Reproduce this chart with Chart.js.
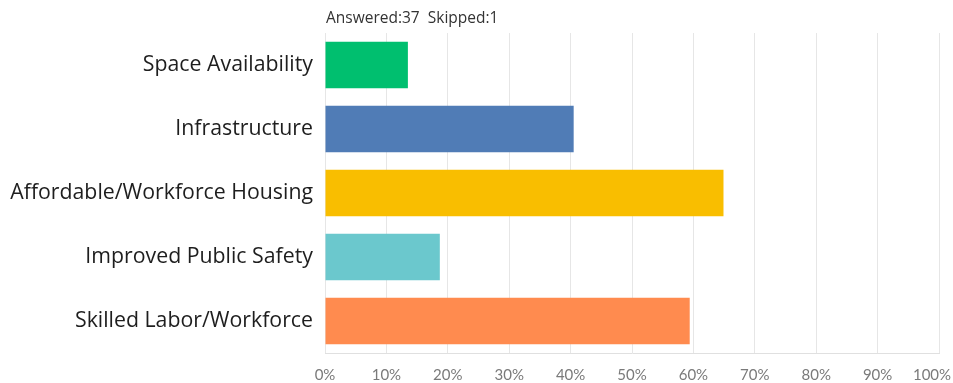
<!DOCTYPE html>
<html>
<head>
<meta charset="utf-8">
<script src="https://cdn.jsdelivr.net/npm/chart.js@4/dist/chart.umd.min.js"></script>
<style>
    html, body { margin: 0; padding: 0; background: #fff; }
    #wrap { width: 953px; height: 383px; position: relative; }
</style>
</head>
<body>
<div id="wrap"><canvas id="barChart"></canvas></div>
<script>
var categories = ['Space Availability', 'Infrastructure', 'Affordable/Workforce Housing', 'Improved Public Safety', 'Skilled Labor/Workforce'];
var percents = [13.5, 40.5, 64.9, 18.7, 59.4];
var barColors = ['#00bf6f', '#507cb6', '#f9be00', '#6bc8cd', '#ff8b4f'];
var tickValues = [0, 10, 20, 30, 40, 50, 60, 70, 80, 90, 100];
var answered = 37;
var skipped = 1;

// header text drawn at the left edge of the plot
var headerText = {
    id: 'headerText',
    beforeDraw: function(chart) {
        // pull the last x label ("100%") back inside the canvas
        var items = chart.scales.x.getLabelItems();
        if (items.length) items[items.length - 1].options.translation[0] -= 7;
    },
    afterDraw: function(chart) {
        var ctx = chart.ctx;
        ctx.save();
        ctx.fillStyle = '#333';
        ctx.font = '15.5px "Open Sans"';
        ctx.textBaseline = 'middle';
        ctx.fillText('Answered:' + answered + '  Skipped:' + skipped, chart.chartArea.left + 1, 19);
        ctx.restore();
    }
};

new Chart(document.getElementById('barChart'), {
    type: 'bar',
    data: {
        labels: categories,
        datasets: [{
            data: percents,
            backgroundColor: barColors,
            borderWidth: 0,
            categoryPercentage: 1,
            barPercentage: 0.73
        }]
    },
    options: {
        indexAxis: 'y',
        responsive: true,
        maintainAspectRatio: false,
        animation: false,
        layout: { padding: { top: 33, right: 14, bottom: 0, left: 0 } },
        plugins: {
            legend: { display: false },
            tooltip: { enabled: false }
        },
        scales: {
            x: {
                min: 0,
                max: 100,
                afterBuildTicks: function(scale) {
                    scale.ticks = tickValues.map(function(v) { return { value: v }; });
                },
                afterFit: function(scale) {
                    scale.height = 30;
                    scale.paddingLeft = 0;
                    scale.paddingRight = 0;
                },
                grid: { color: '#e6e6e6', lineWidth: 1, drawTicks: false },
                border: { display: true, color: '#e0e0e0' },
                ticks: {
                    padding: 13,
                    color: '#7a7a7a',
                    font: { family: 'Lato', size: 15 },
                    maxRotation: 0,
                    callback: function(v) { return v + '%'; }
                }
            },
            y: {
                afterFit: function(scale) { scale.width = 325; },
                grid: { display: false, drawTicks: false },
                border: { display: false },
                ticks: {
                    padding: 12,
                    color: '#1e1e1e',
                    font: { family: 'Open Sans', size: 21.3 }
                }
            }
        }
    },
    plugins: [headerText]
});
</script>
</body>
</html>
